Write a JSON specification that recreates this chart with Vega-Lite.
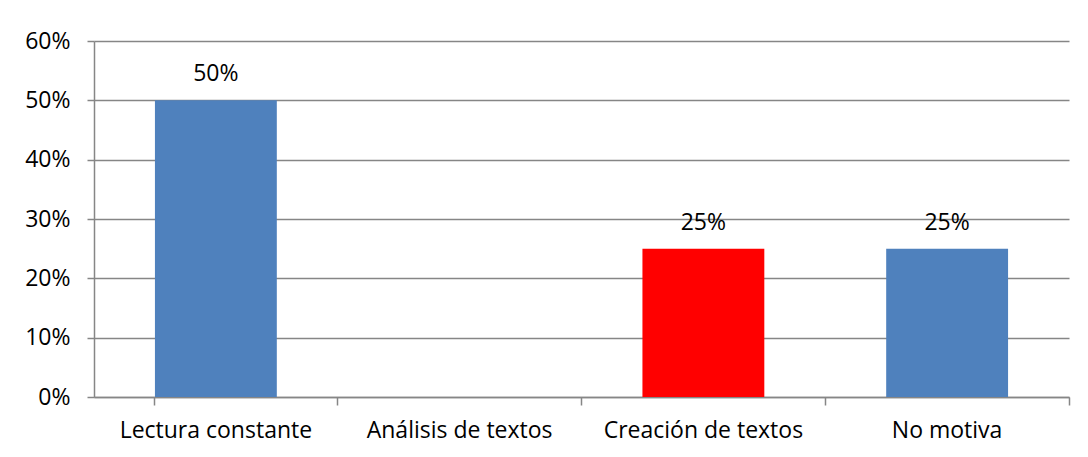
{
  "$schema": "https://vega.github.io/schema/vega-lite/v6.json",
  "width": 975,
  "height": 356,
  "autosize": {"type": "none"},
  "padding": {"left": 94, "top": 41, "right": 19, "bottom": 60},
  "background": "white",
  "config": {
    "view": {"stroke": null},
    "font": "Open Sans"
  },
  "data": {
    "values": [
      {"categoria": "Lectura constante", "valor": 0.5, "grupo": "azul"},
      {"categoria": "Análisis de textos", "valor": 0, "grupo": "azul"},
      {"categoria": "Creación de textos", "valor": 0.25, "grupo": "rojo"},
      {"categoria": "No motiva", "valor": 0.25, "grupo": "azul"}
    ]
  },
  "encoding": {
    "x": {
      "field": "categoria",
      "type": "nominal",
      "sort": null,
      "scale": {"paddingInner": 0.5, "paddingOuter": 0.25},
      "axis": {
        "title": null,
        "labelAngle": 0,
        "labelFontSize": 23,
        "labelColor": "black",
        "labelPadding": 14,
        "labelLimit": 400,
        "bandPosition": 1.5,
        "tickExtra": true,
        "tickSize": 8,
        "tickColor": "#868686",
        "tickWidth": 1.5,
        "domainColor": "#868686",
        "domainWidth": 1.5,
        "grid": false
      }
    },
    "y": {
      "field": "valor",
      "type": "quantitative",
      "scale": {"domain": [0, 0.6], "nice": false},
      "axis": {
        "title": null,
        "format": ".0%",
        "values": [0, 0.1, 0.2, 0.3, 0.4, 0.5, 0.6],
        "labelFontSize": 23,
        "labelColor": "black",
        "labelPadding": 17,
        "tickSize": 7,
        "tickColor": "#868686",
        "tickWidth": 1.5,
        "domainColor": "#868686",
        "domainWidth": 1.5,
        "grid": true,
        "gridColor": "#868686",
        "gridWidth": 1.5
      }
    }
  },
  "layer": [
    {
      "mark": {"type": "bar"},
      "encoding": {
        "color": {
          "field": "grupo",
          "type": "nominal",
          "scale": {"domain": ["azul", "rojo"], "range": ["#4F81BD", "#FF0000"]},
          "legend": null
        }
      }
    },
    {
      "transform": [{"filter": "datum.valor > 0"}],
      "mark": {"type": "text", "baseline": "bottom", "dy": -14, "fontSize": 23, "color": "black"},
      "encoding": {
        "text": {"field": "valor", "type": "quantitative", "format": ".0%"}
      }
    }
  ]
}
